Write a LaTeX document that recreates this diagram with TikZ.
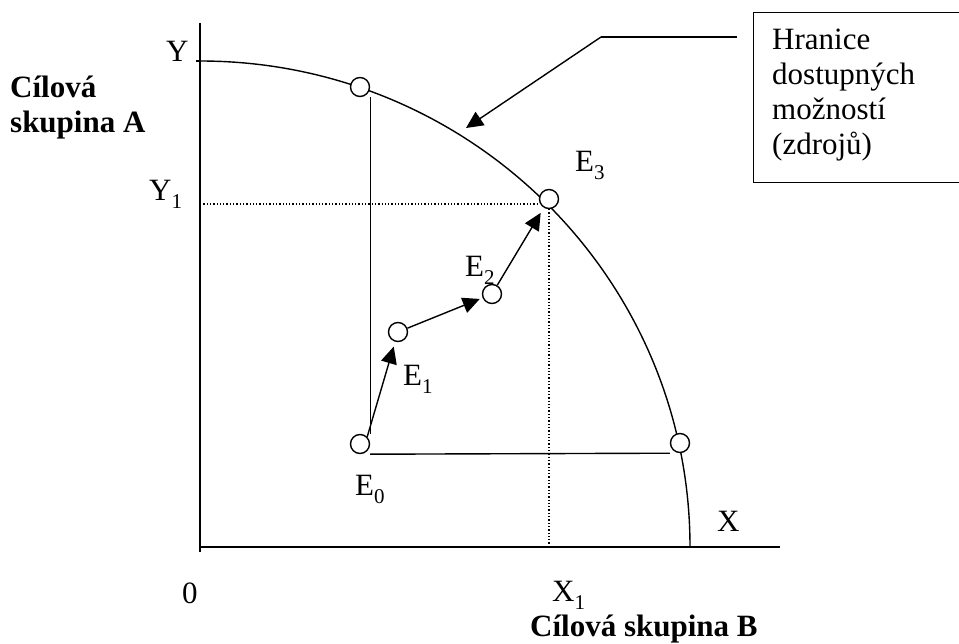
\documentclass[tikz,border=0pt]{standalone}
\usepackage{fontspec}
\setmainfont{Liberation Serif}
\usetikzlibrary{arrows.meta}
\newcommand\sbs[1]{\raisebox{-8pt}{\fontsize{21}{21}\selectfont #1}}
\begin{document}
\begin{tikzpicture}[x=1pt,y=-1pt,
  lbl/.style={font=\fontsize{31}{35}\selectfont, inner sep=0pt, anchor=base west},
  blbl/.style={font=\fontsize{31}{35}\selectfont\bfseries, inner sep=0pt, anchor=base west},
  pt/.style={circle, draw, line width=1.4pt, minimum size=19pt, inner sep=0pt, fill=white},
  ln/.style={line width=1.4pt},
  dot/.style={line width=1.3pt, dash pattern=on 1.3pt off 2pt},
  arr/.style={line width=1.4pt, -{Triangle[length=17pt,width=16pt]}},
]
\useasboundingbox (0,0) rectangle (959,644);
% axes
\coordinate (yt) at (200,23);
\coordinate (o) at (200,547);
\coordinate (yb) at (200,552);
\coordinate (xe) at (780,547);
\coordinate (ytick) at (196,61);
\coordinate (ytop) at (200,61);
\draw[ln] (yt) -- (yb);
\draw[ln] (o) -- (xe);
\draw[ln] (ytick) -- (ytop);
% frontier
\draw[ln] (ytop) arc[start angle=-90, end angle=0, x radius=490, y radius=486];
% dotted lines
\coordinate (y1) at (200,204);
% points
\node[pt] (top) at (360,87) {};
\node[pt] (E0) at (360,444) {};
\node[pt] (E1) at (398,332) {};
\node[pt] (E2) at (492,294) {};
\node[pt] (E3) at (549,199) {};
\node[pt] (R) at (680,443) {};
\draw[dot] (y1) -- (y1 -| E3.west);
\draw[dot] (E3.south) -- (E3.south |- o);
% frame lines
\draw[ln] (top.south -| E0.east) -- (E0.north -| E0.east);
\draw[ln] (E0.south -| E0.east) -- (R.south -| R.west);
% arrows
\draw[arr, shorten >=5pt] (E0.45) -- (E1);
\draw[arr, shorten >=3pt] (E1) -- (E2);
\draw[arr, shorten >=6pt] (E2) -- (E3);
% box and leader
\node[draw, line width=1.4pt, anchor=north west, minimum width=220pt, minimum height=170pt] (box) at (753,12) {};
\node[lbl] (t1) at (772,50) {Hranice};
\node[lbl] (t2) at (772,85) {dostupných};
\node[lbl] (t3) at (772,120) {možností};
\node[lbl] (t4) at (772,155) {(zdrojů)};
\coordinate (le) at (737,37);
\coordinate (lk) at (601,37);
\coordinate (lt) at (466,128);
\draw[ln] (le) -- (lk);
\draw[arr] (lk) -- (lt);
% labels
\node[lbl] (lY) at (166,62) {Y};
\node[lbl] (lY1) at (149,201) {Y\sbs{1}};
\node[lbl] (l0) at (182,603) {0};
\node[lbl] (lX1) at (552,601) {X\sbs{1}};
\node[lbl] (lX) at (717,531) {X};
\node[lbl] (lE0) at (355,495) {E\sbs{0}};
\node[lbl] (lE1) at (403,385) {E\sbs{1}};
\node[lbl] (lE2) at (465,277) {E\sbs{2}};
\node[lbl] (lE3) at (575,172) {E\sbs{3}};
\node[blbl] (la1) at (10,98) {Cílová};
\node[blbl] (la2) at (10,133) {skupina A};
\node[blbl] (lb) at (530,636) {Cílová skupina B};
\end{tikzpicture}
\end{document}
